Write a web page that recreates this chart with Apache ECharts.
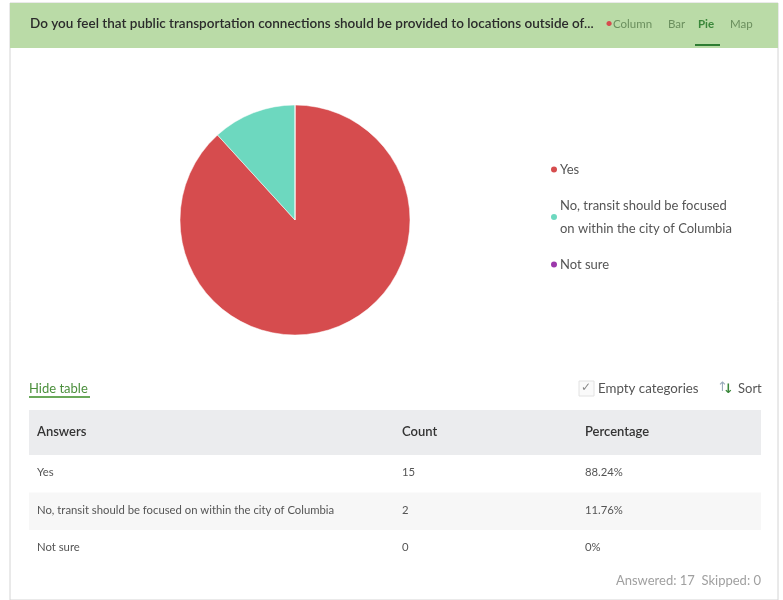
<!DOCTYPE html>
<html>
<head>
<meta charset="UTF-8">
<title>Survey pie</title>
<script src="https://cdn.jsdelivr.net/npm/echarts@6/dist/echarts.min.js"></script>
<style>
  html, body { margin: 0; padding: 0; background: #fff; }
  #main { width: 783px; height: 600px; }
</style>
</head>
<body>
<div id="main"></div>
<script>
    // data
    var answers = ['Yes', 'No, transit should be focused on within the city of Columbia', 'Not sure'];
    var legendNames = ['Yes', 'No, transit should be focused\non within the city of Columbia', 'Not sure'];
    var counts = [15, 2, 0];
    var percents = ['88.24%', '11.76%', '0%'];
    var colors = ['#d64c4e', '#6dd8bf', '#9c38ab'];
    var answered = 17, skipped = 0;
    var title = 'Do you feel that public transportation connections should be provided to locations outside of...';

    var font = 'Lato, "Noto Sans", sans-serif';
    var myChart = echarts.init(document.getElementById('main'));

    var pieData = [];
    for (var i = 0; i < answers.length; i++) {
        pieData.push({ name: answers[i], value: counts[i], itemStyle: { color: colors[i] } });
    }

    // table rows + header/static bits as graphic elements
    var g = [
        // panel borders
        { type: 'rect', shape: { x: 10, y: 3, width: 768, height: 597 }, style: { fill: '#fff', stroke: '#d4d4d4', lineWidth: 1 }, z: -10 },
        { type: 'rect', shape: { x: 10, y: 3, width: 768, height: 45 }, style: { fill: '#badba7' } },
        { type: 'text', left: 30, top: 17, style: { text: title, font: '600 13.5px ' + font, fill: '#2b2b2b' } },
        { type: 'text', left: 605, top: 16, style: { text: '•', font: '14px ' + font, fill: '#d64c4e' } },
        { type: 'text', left: 613, top: 18, style: { text: 'Column', font: '11.5px ' + font, fill: '#6b8f5e' } },
        { type: 'text', left: 668, top: 18, style: { text: 'Bar', font: '11.5px ' + font, fill: '#6b8f5e' } },
        { type: 'text', left: 698, top: 18, style: { text: 'Pie', font: 'bold 11.5px ' + font, fill: '#3a873a' } },
        { type: 'text', left: 730, top: 18, style: { text: 'Map', font: '11.5px ' + font, fill: '#6b8f5e' } },
        { type: 'rect', shape: { x: 695, y: 44, width: 25, height: 2 }, style: { fill: '#2e7d32' } },

        // controls above the table
        { type: 'text', left: 29, top: 382, style: { text: 'Hide table', font: '13px ' + font, fill: '#4b8f3c' } },
        { type: 'rect', shape: { x: 29, y: 396, width: 61, height: 2 }, style: { fill: '#6aa95a' } },
        { type: 'rect', shape: { x: 579, y: 381, width: 15, height: 15 }, style: { fill: '#fafafa', stroke: '#e2e2e2', lineWidth: 1 } },
        { type: 'text', left: 581, top: 382, style: { text: '✓', font: '12px "DejaVu Sans", sans-serif', fill: '#888' } },
        { type: 'text', left: 598, top: 382, style: { text: 'Empty categories', font: '13.3px ' + font, fill: '#555' } },
        { type: 'text', left: 717, top: 381, style: { text: '↑', font: '13px "DejaVu Sans", sans-serif', fill: '#9ab' } },
        { type: 'text', left: 723, top: 383, style: { text: '↓', font: 'bold 13px "DejaVu Sans", sans-serif', fill: '#3a873a' } },
        { type: 'text', left: 738, top: 382, style: { text: 'Sort', font: '13px ' + font, fill: '#555' } },

        // table header
        { type: 'rect', shape: { x: 29, y: 410, width: 732, height: 45 }, style: { fill: '#ebecee' } },
        { type: 'text', left: 37, top: 425, style: { text: 'Answers', font: '600 13px ' + font, fill: '#333' } },
        { type: 'text', left: 402, top: 425, style: { text: 'Count', font: '600 13px ' + font, fill: '#333' } },
        { type: 'text', left: 585, top: 425, style: { text: 'Percentage', font: '600 13px ' + font, fill: '#333' } },

        { type: 'text', right: 22, top: 574, style: { text: 'Answered: ' + answered + '  Skipped: ' + skipped, font: '13px ' + font, fill: '#a0a0a0' } }
    ];
    var rowTop = 455, rowH = 37.5;
    for (var r = 0; r < answers.length; r++) {
        var y = rowTop + r * rowH;
        if (r % 2 === 1) {
            g.push({ type: 'rect', shape: { x: 29, y: y, width: 732, height: rowH }, style: { fill: '#f7f7f7' } });
        }
        g.push({ type: 'text', left: 37, top: y + 12, style: { text: answers[r], font: '11.3px ' + font, fill: '#555' } });
        g.push({ type: 'text', left: 402, top: y + 12, style: { text: String(counts[r]), font: '11.3px ' + font, fill: '#555' } });
        g.push({ type: 'text', left: 585, top: y + 12, style: { text: percents[r], font: '11.3px ' + font, fill: '#555' } });
    }

    var option = {
        animation: false,
        textStyle: { fontFamily: font },
        legend: {
            orient: 'vertical',
            left: 544,
            top: 153,
            icon: 'circle',
            itemWidth: 8,
            itemHeight: 8,
            itemGap: 13,
            data: answers,
            formatter: function (name) {
                return legendNames[answers.indexOf(name)];
            },
            textStyle: { fontSize: 13, color: '#555', lineHeight: 23, padding: [0, 0, 0, -3] }
        },
        graphic: g,
        series: [{
            type: 'pie',
            center: [295, 220],
            radius: 115,
            startAngle: 90,
            clockwise: true,
            label: { show: false },
            labelLine: { show: false },
            itemStyle: { borderColor: '#fff', borderWidth: 0.5 },
            emphasis: { disabled: true },
            data: pieData
        }]
    };
    myChart.setOption(option);
</script>
</body>
</html>
